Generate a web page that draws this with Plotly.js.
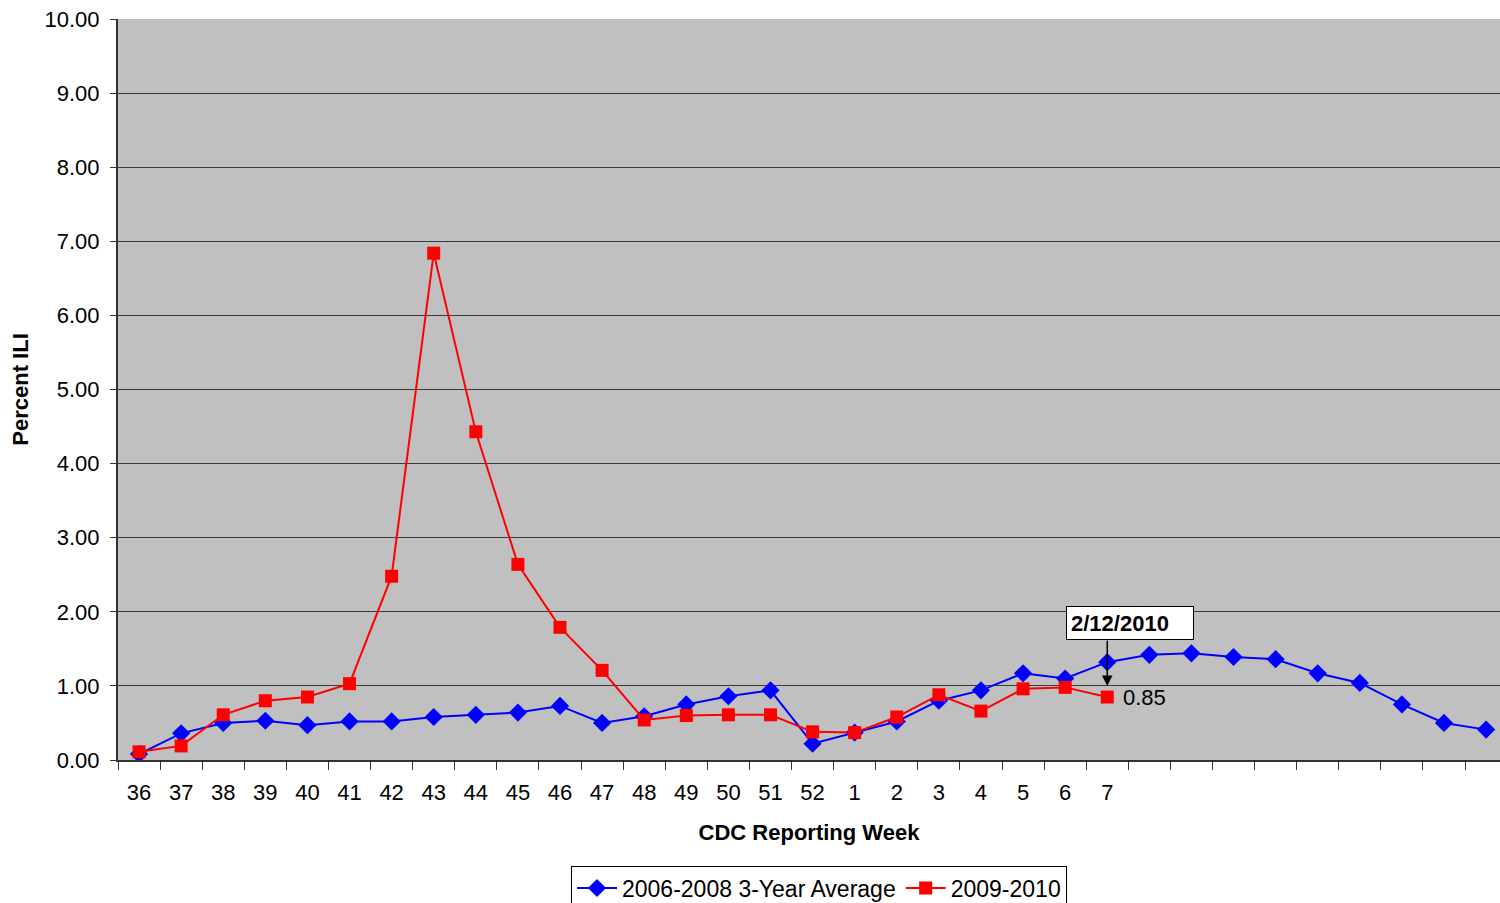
<!DOCTYPE html>
<html>
<head>
<meta charset="utf-8">
<script src="https://cdn.plot.ly/plotly-3.0.1.min.js"></script>
<style>html,body{margin:0;padding:0;background:#fff;}#chart{width:1500px;height:903px;}</style>
</head>
<body>
<div id="chart"></div>
<script>
const weeks = ['36','37','38','39','40','41','42','43','44','45','46','47','48','49','50','51','52','1','2','3','4','5','6','7','8','9','10','11','12','13','14','15','16'];
const tickLabels = ['36','37','38','39','40','41','42','43','44','45','46','47','48','49','50','51','52','1','2','3','4','5','6','7','','','','','','','','',''];
const avg3yr = [0.08,0.36,0.50,0.53,0.47,0.52,0.52,0.58,0.61,0.64,0.73,0.50,0.59,0.75,0.86,0.94,0.22,0.37,0.52,0.80,0.94,1.17,1.10,1.32,1.42,1.44,1.39,1.36,1.17,1.04,0.75,0.50,0.41];
const season0910 = [0.11,0.19,0.61,0.80,0.85,1.03,2.48,6.84,4.43,2.64,1.79,1.21,0.54,0.60,0.61,0.61,0.38,0.37,0.58,0.88,0.66,0.96,0.98,0.85];
const seriesNames = ['2006-2008 3-Year Average','2009-2010'];
const lastWeek = '7';
const lastValue = 0.85;
const calloutText = '2/12/2010';

const FONT = 'Liberation Sans, Arial, sans-serif';
const redWeeks = weeks.slice(0, season0910.length);
const lastIdx = weeks.indexOf(lastWeek);

const traces = [
  {x: weeks, y: avg3yr, name: seriesNames[0], type: 'scatter', mode: 'lines+markers',
   line: {color: '#0000FF', width: 2}, marker: {symbol: 'diamond', size: 14, color: '#0000FF'}},
  {x: redWeeks, y: season0910, name: seriesNames[1], type: 'scatter', mode: 'lines+markers',
   line: {color: '#FF0000', width: 2}, marker: {symbol: 'square', size: 13, color: '#FF0000'}}
];

const layout = {
  width: 1500, height: 903,
  margin: {l: 118, r: 0, t: 19, b: 143},
  paper_bgcolor: '#FFFFFF',
  plot_bgcolor: '#C0C0C0',
  font: {family: FONT, size: 22, color: '#000'},
  showlegend: true,
  legend: {orientation: 'h', x: 0.546, xref: 'container', xanchor: 'center',
           y: 0.0415, yref: 'container', yanchor: 'top',
           bgcolor: '#FFFFFF', bordercolor: '#000', borderwidth: 1,
           font: {family: FONT, size: 23, color: '#000'}, itemwidth: 40, tracegroupgap: 0},
  xaxis: {
    type: 'category', categoryorder: 'array', categoryarray: weeks,
    tickmode: 'array', tickvals: weeks, ticktext: tickLabels,
    tickson: 'boundaries', ticks: 'outside', ticklen: 8, tickcolor: '#333', tickwidth: 1,
    showgrid: false, showline: true, linecolor: '#333', linewidth: 2,
    range: [-0.5, 32.33],
    tickfont: {family: FONT, size: 22, color: '#000'},
    ticklabelstandoff: 12,
    title: {text: '<b>CDC Reporting Week</b>', font: {family: FONT, size: 22, color: '#000'}, standoff: 20},
    zeroline: false, fixedrange: true, automargin: false
  },
  yaxis: {
    range: [0, 10], dtick: 1, tick0: 0, tickformat: '.2f',
    ticks: 'outside', ticklen: 6, tickcolor: '#333', tickwidth: 1,
    showgrid: true, gridcolor: '#3a3a3a', gridwidth: 1,
    showline: true, linecolor: '#333', linewidth: 2,
    tickfont: {family: FONT, size: 22, color: '#000'},
    ticklabelstandoff: 6,
    title: {text: '<b>Percent ILI</b>', font: {family: FONT, size: 22, color: '#000'}, standoff: 10},
    zeroline: false, fixedrange: true, automargin: false
  },
  annotations: [
    {x: lastIdx, y: lastValue, xref: 'x', yref: 'y', text: lastValue.toFixed(2),
     showarrow: false, xanchor: 'left', yanchor: 'middle', xshift: 14,
     font: {family: FONT, size: 22, color: '#000'}},
    {x: lastIdx, y: 1.0, xref: 'x', yref: 'y', text: '', showarrow: true,
     axref: 'x', ayref: 'y', ax: lastIdx, ay: 1.63,
     arrowhead: 2, arrowsize: 1.4, arrowwidth: 1.5, arrowcolor: '#000', standoff: 0, startstandoff: 0},
    {x: lastIdx, y: 1.85, xref: 'x', yref: 'y', text: '<b>' + calloutText + '</b>', showarrow: false,
     xanchor: 'center', yanchor: 'middle', xshift: 23,
     bgcolor: '#FFFFFF', bordercolor: '#000', borderwidth: 1, borderpad: 4, width: 118, height: 24,
     align: 'left', font: {family: FONT, size: 22, color: '#000'}}
  ]
};

Plotly.newPlot('chart', traces, layout, {displayModeBar: false, staticPlot: true});
</script>
</body>
</html>
